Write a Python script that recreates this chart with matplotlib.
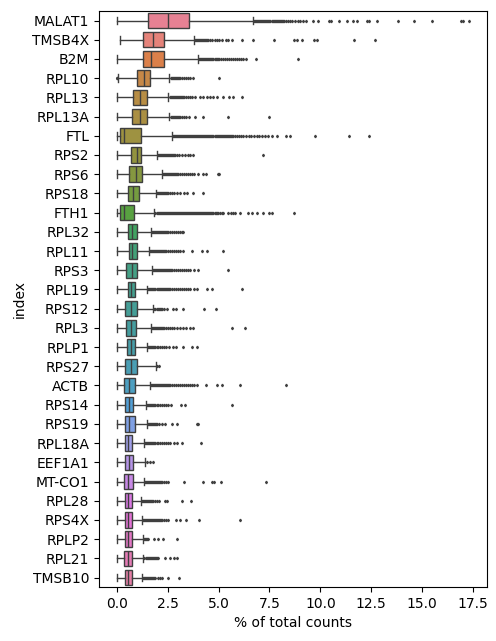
import matplotlib
matplotlib.use("Agg")
import matplotlib.pyplot as plt
import seaborn as sns

genes = ["MALAT1", "TMSB4X", "B2M", "RPL10", "RPL13", "RPL13A", "FTL", "RPS2",
         "RPS6", "RPS18", "FTH1", "RPL32", "RPL11", "RPS3", "RPL19", "RPS12",
         "RPL3", "RPLP1", "RPS27", "ACTB", "RPS14", "RPS19", "RPL18A", "EEF1A1",
         "MT-CO1", "RPL28", "RPS4X", "RPLP2", "RPL21", "TMSB10"]

whislo = [0.0, 0.18, 0.0, 0.08, 0.0, 0.0, 0.0, 0.0, 0.0, 0.0, 0.0, 0.0, 0.0, 0.0, 0.0,
          0.0, 0.0, 0.0, 0.0, 0.0, 0.0, 0.0, 0.0, 0.0, 0.0, 0.0, 0.0, 0.0, 0.0, 0.0]
q1 = [1.55, 1.31, 1.28, 1.01, 0.82, 0.77, 0.18, 0.72, 0.59, 0.54, 0.18, 0.54, 0.59, 0.47, 0.54,
      0.42, 0.44, 0.49, 0.39, 0.33, 0.42, 0.42, 0.42, 0.42, 0.37, 0.42, 0.39, 0.39, 0.37, 0.39]
med = [2.53, 1.77, 1.70, 1.34, 1.14, 1.14, 0.33, 0.98, 0.95, 0.82, 0.33, 0.77, 0.77, 0.75, 0.72,
       0.72, 0.69, 0.69, 0.69, 0.59, 0.60, 0.60, 0.54, 0.62, 0.56, 0.56, 0.57, 0.56, 0.54, 0.56]
q3 = [3.56, 2.34, 2.34, 1.65, 1.50, 1.50, 1.21, 1.21, 1.26, 1.11, 0.85, 1.01, 0.98, 1.01, 0.91,
      1.01, 0.96, 0.91, 1.01, 0.88, 0.82, 0.87, 0.77, 0.81, 0.78, 0.74, 0.74, 0.74, 0.74, 0.74]
whishi = [6.67, 3.81, 4.0, 2.58, 2.53, 2.58, 2.73, 1.96, 2.21, 1.91, 1.85, 1.68, 1.58, 1.73, 1.50,
          1.80, 1.68, 1.50, 1.91, 1.63, 1.44, 1.47, 1.35, 1.39, 1.33, 1.18, 1.23, 1.28, 1.31, 1.23]

fliers = [
    # MALAT1
    [6.75, 6.8, 6.85, 6.9, 6.95, 7.0, 7.05, 7.1, 7.15, 7.2, 7.25, 7.3, 7.35, 7.4, 7.45,
     7.5, 7.55, 7.6, 7.65, 7.7, 7.75, 7.8, 7.85, 7.9, 7.95, 8.0, 8.05, 8.1, 8.15, 8.2,
     8.3, 8.4, 8.5, 8.6, 8.75, 8.9, 9.0, 9.15, 9.3, 9.65, 9.9, 10.4, 10.5, 10.9, 11.3,
     11.6, 11.8, 12.3, 12.4, 12.8, 13.8, 14.6, 15.5, 16.9, 17.0, 17.3],
    # TMSB4X
    [3.85, 3.9, 3.95, 4.0, 4.05, 4.1, 4.15, 4.2, 4.25, 4.3, 4.35, 4.4, 4.45, 4.5, 4.6,
     4.7, 4.8, 4.9, 5.0, 5.15, 5.35, 5.48, 5.67, 6.17, 6.67, 7.74, 8.72, 8.83, 9.11,
     9.68, 9.81, 11.66, 12.67],
    # B2M
    [4.05, 4.1, 4.15, 4.2, 4.25, 4.3, 4.35, 4.4, 4.45, 4.5, 4.55, 4.6, 4.65, 4.7, 4.75,
     4.8, 4.85, 4.9, 4.95, 5.0, 5.1, 5.2, 5.3, 5.4, 5.5, 5.6, 5.7, 5.8, 5.9, 6.0, 6.1,
     6.2, 6.34, 6.82, 8.91],
    # RPL10
    [0.0, 0.02, 2.65, 2.7, 2.75, 2.8, 2.85, 2.9, 2.95, 3.0, 3.05, 3.1, 3.2, 3.3, 3.4,
     3.5, 3.6, 3.76, 5.04],
    # RPL13
    [2.6, 2.65, 2.7, 2.75, 2.8, 2.85, 2.9, 2.95, 3.0, 3.05, 3.1, 3.15, 3.2, 3.25, 3.3,
     3.4, 3.5, 3.6, 3.7, 3.84, 4.09, 4.25, 4.41, 4.58, 4.74, 4.9, 5.2, 5.53, 5.69, 6.13],
    # RPL13A
    [2.65, 2.7, 2.75, 2.8, 2.85, 2.9, 2.95, 3.0, 3.05, 3.1, 3.2, 3.3, 3.4, 3.56, 3.84,
     4.25, 5.48, 7.49],
    # FTL
    [2.75, 2.8, 2.85, 2.9, 2.95, 3.0, 3.05, 3.1, 3.15, 3.2, 3.25, 3.3, 3.35, 3.4, 3.45,
     3.5, 3.55, 3.6, 3.65, 3.7, 3.75, 3.8, 3.85, 3.9, 3.95, 4.0, 4.05, 4.1, 4.15, 4.2,
     4.25, 4.3, 4.35, 4.4, 4.45, 4.5, 4.55, 4.6, 4.65, 4.7, 4.75, 4.8, 4.85, 4.9, 4.95,
     5.0, 5.05, 5.1, 5.15, 5.2, 5.25, 5.3, 5.35, 5.4, 5.45, 5.5, 5.55, 5.6, 5.65, 5.7,
     5.8, 5.9, 6.0, 6.1, 6.2, 6.35, 6.5, 6.6, 6.75, 6.9, 7.0, 7.15, 7.3, 7.45, 7.6,
     7.85, 8.29, 8.5, 9.76, 11.41, 12.4],
    # RPS2
    [2.0, 2.05, 2.1, 2.15, 2.2, 2.25, 2.3, 2.35, 2.4, 2.45, 2.5, 2.55, 2.6, 2.65, 2.7,
     2.75, 2.8, 2.85, 2.95, 3.05, 3.2, 3.35, 3.5, 3.6, 3.76, 7.19],
    # RPS6
    [2.25, 2.3, 2.35, 2.4, 2.45, 2.5, 2.55, 2.6, 2.65, 2.7, 2.75, 2.8, 2.85, 2.9, 2.95,
     3.0, 3.1, 3.2, 3.3, 3.4, 3.5, 3.6, 3.7, 3.8, 4.0, 4.25, 4.37, 4.99, 5.03],
    # RPS18
    [1.95, 2.0, 2.05, 2.1, 2.15, 2.2, 2.25, 2.3, 2.35, 2.4, 2.45, 2.5, 2.6, 2.7, 2.8,
     2.95, 3.1, 3.3, 3.47, 3.76, 4.25],
    # FTH1
    [1.9, 1.95, 2.0, 2.05, 2.1, 2.15, 2.2, 2.25, 2.3, 2.35, 2.4, 2.45, 2.5, 2.55, 2.6,
     2.65, 2.7, 2.75, 2.8, 2.85, 2.9, 2.95, 3.0, 3.05, 3.1, 3.15, 3.2, 3.25, 3.3, 3.35,
     3.4, 3.45, 3.5, 3.55, 3.6, 3.65, 3.7, 3.75, 3.8, 3.85, 3.9, 3.95, 4.0, 4.05, 4.1,
     4.15, 4.2, 4.25, 4.3, 4.35, 4.4, 4.45, 4.5, 4.55, 4.6, 4.65, 4.7, 4.75, 4.8, 4.85,
     4.9, 4.95, 5.05, 5.15, 5.23, 5.48, 5.6, 5.73, 5.81, 6.07, 6.45, 6.66, 6.89, 7.17,
     7.46, 7.64, 8.72],
    # RPL32
    [1.72, 1.77, 1.82, 1.87, 1.92, 1.97, 2.02, 2.07, 2.12, 2.17, 2.22, 2.27, 2.32, 2.37,
     2.42, 2.47, 2.52, 2.6, 2.7, 2.8, 2.9, 3.0, 3.1, 3.2, 3.27],
    # RPL11
    [1.62, 1.67, 1.72, 1.77, 1.82, 1.87, 1.92, 1.97, 2.02, 2.07, 2.12, 2.17, 2.22, 2.27,
     2.32, 2.37, 2.42, 2.5, 2.6, 2.7, 2.8, 2.9, 3.0, 3.1, 3.27, 3.71, 4.2, 4.41, 5.23],
    # RPS3
    [1.77, 1.82, 1.87, 1.92, 1.97, 2.02, 2.07, 2.12, 2.17, 2.22, 2.27, 2.32, 2.37, 2.42,
     2.47, 2.52, 2.57, 2.62, 2.67, 2.72, 2.8, 2.9, 3.0, 3.1, 3.2, 3.3, 3.4, 3.5, 3.6,
     3.81, 3.97, 5.48],
    # RPL19
    [1.55, 1.6, 1.65, 1.7, 1.75, 1.8, 1.85, 1.9, 1.95, 2.0, 2.05, 2.1, 2.15, 2.2, 2.25,
     2.3, 2.35, 2.4, 2.45, 2.5, 2.55, 2.6, 2.7, 2.8, 2.9, 3.0, 3.1, 3.2, 3.3, 3.4, 3.5,
     3.6, 3.81, 3.92, 4.41, 4.69, 6.17],
    # RPS12
    [1.85, 1.9, 1.95, 2.0, 2.05, 2.1, 2.15, 2.2, 2.3, 2.45, 2.78, 2.91, 3.24, 4.3, 4.85],
    # RPL3
    [1.72, 1.77, 1.82, 1.87, 1.92, 1.97, 2.02, 2.07, 2.12, 2.17, 2.22, 2.27, 2.32, 2.4,
     2.5, 2.6, 2.7, 2.8, 2.95, 3.11, 3.27, 3.4, 3.6, 3.73, 5.67, 6.32],
    # RPLP1
    [1.55, 1.6, 1.65, 1.7, 1.75, 1.8, 1.85, 1.9, 1.95, 2.0, 2.1, 2.2, 2.3, 2.4, 2.58,
     2.78, 2.91, 3.27, 3.71, 3.92],
    # RPS27
    [1.99, 2.09],
    # ACTB
    [1.68, 1.73, 1.78, 1.83, 1.88, 1.93, 1.98, 2.03, 2.08, 2.13, 2.18, 2.23, 2.28, 2.33,
     2.38, 2.43, 2.48, 2.53, 2.58, 2.63, 2.7, 2.8, 2.9, 3.0, 3.1, 3.2, 3.3, 3.4, 3.5,
     3.6, 3.7, 3.8, 3.92, 4.38, 4.94, 5.15, 6.07, 8.31],
    # RPS14
    [1.5, 1.55, 1.6, 1.65, 1.7, 1.75, 1.8, 1.85, 1.9, 1.95, 2.0, 2.1, 2.2, 2.3, 2.4,
     2.5, 2.66, 3.14, 3.35, 5.67],
    # RPS19
    [1.52, 1.57, 1.62, 1.67, 1.72, 1.77, 1.82, 1.87, 1.92, 1.97, 2.05, 2.21, 2.37, 2.7,
     2.94, 3.92, 3.99],
    # RPL18A
    [1.4, 1.45, 1.5, 1.55, 1.6, 1.65, 1.7, 1.75, 1.8, 1.85, 1.9, 1.95, 2.0, 2.1, 2.2,
     2.3, 2.4, 2.5, 2.61, 2.81, 2.97, 3.19, 4.15],
    # EEF1A1
    [1.5, 1.63, 1.77],
    # MT-CO1
    [1.38, 1.43, 1.48, 1.53, 1.58, 1.63, 1.68, 1.73, 1.78, 1.83, 1.88, 1.93, 1.98, 2.03,
     2.08, 2.13, 2.18, 2.23, 2.3, 2.4, 2.53, 3.32, 4.25, 4.69, 4.79, 5.12, 7.32],
    # RPL28
    [1.23, 1.28, 1.33, 1.38, 1.43, 1.48, 1.53, 1.58, 1.63, 1.68, 1.73, 1.8, 1.9, 1.95,
     2.09, 2.37, 2.48, 3.22, 3.65],
    # RPS4X
    [1.28, 1.33, 1.38, 1.43, 1.48, 1.53, 1.58, 1.63, 1.68, 1.73, 1.78, 1.83, 1.88, 1.93,
     1.98, 2.03, 2.08, 2.13, 2.18, 2.23, 2.3, 2.4, 2.53, 2.91, 3.08, 3.4, 4.06, 6.05],
    # RPLP2
    [1.33, 1.38, 1.43, 1.48, 1.55, 1.83, 2.04, 2.25, 2.94],
    # RPL21
    [1.36, 1.41, 1.46, 1.51, 1.56, 1.61, 1.66, 1.71, 1.76, 1.81, 1.86, 1.91, 1.96, 2.04,
     2.37, 2.61, 2.81, 2.94],
    # TMSB10
    [1.28, 1.33, 1.38, 1.43, 1.48, 1.53, 1.58, 1.63, 1.68, 1.73, 1.78, 1.83, 1.9, 2.0,
     2.1, 2.21, 2.53, 3.06],
]

line_col = "#3f3f3f"
colors = [sns.desaturate(c, 0.75) for c in sns.husl_palette(len(genes))]

fig, ax = plt.subplots(figsize=(4.96, 6.41), dpi=100)
fig.subplots_adjust(left=0.2, right=0.981, bottom=0.084, top=0.983)

stats = []
for i, g in enumerate(genes):
    stats.append(dict(label=g, whislo=whislo[i], q1=q1[i], med=med[i], q3=q3[i],
                      whishi=whishi[i], fliers=fliers[i]))

bp = ax.bxp(stats, positions=range(len(genes)), widths=0.8, orientation="horizontal",
            patch_artist=True,
            boxprops=dict(edgecolor=line_col, linewidth=1.0),
            whiskerprops=dict(color=line_col, linewidth=1.0),
            capprops=dict(color=line_col, linewidth=1.0),
            medianprops=dict(color=line_col, linewidth=1.0),
            flierprops=dict(marker="d", markersize=1.3, markerfacecolor=line_col,
                            markeredgecolor=line_col, linestyle="none"))
for patch, c in zip(bp["boxes"], colors):
    patch.set_facecolor(c)

ax.set_ylim(len(genes) - 0.5, -0.5)
ax.set_xlabel("% of total counts")
ax.set_ylabel("index")

fig.savefig("out.png", dpi=100)
